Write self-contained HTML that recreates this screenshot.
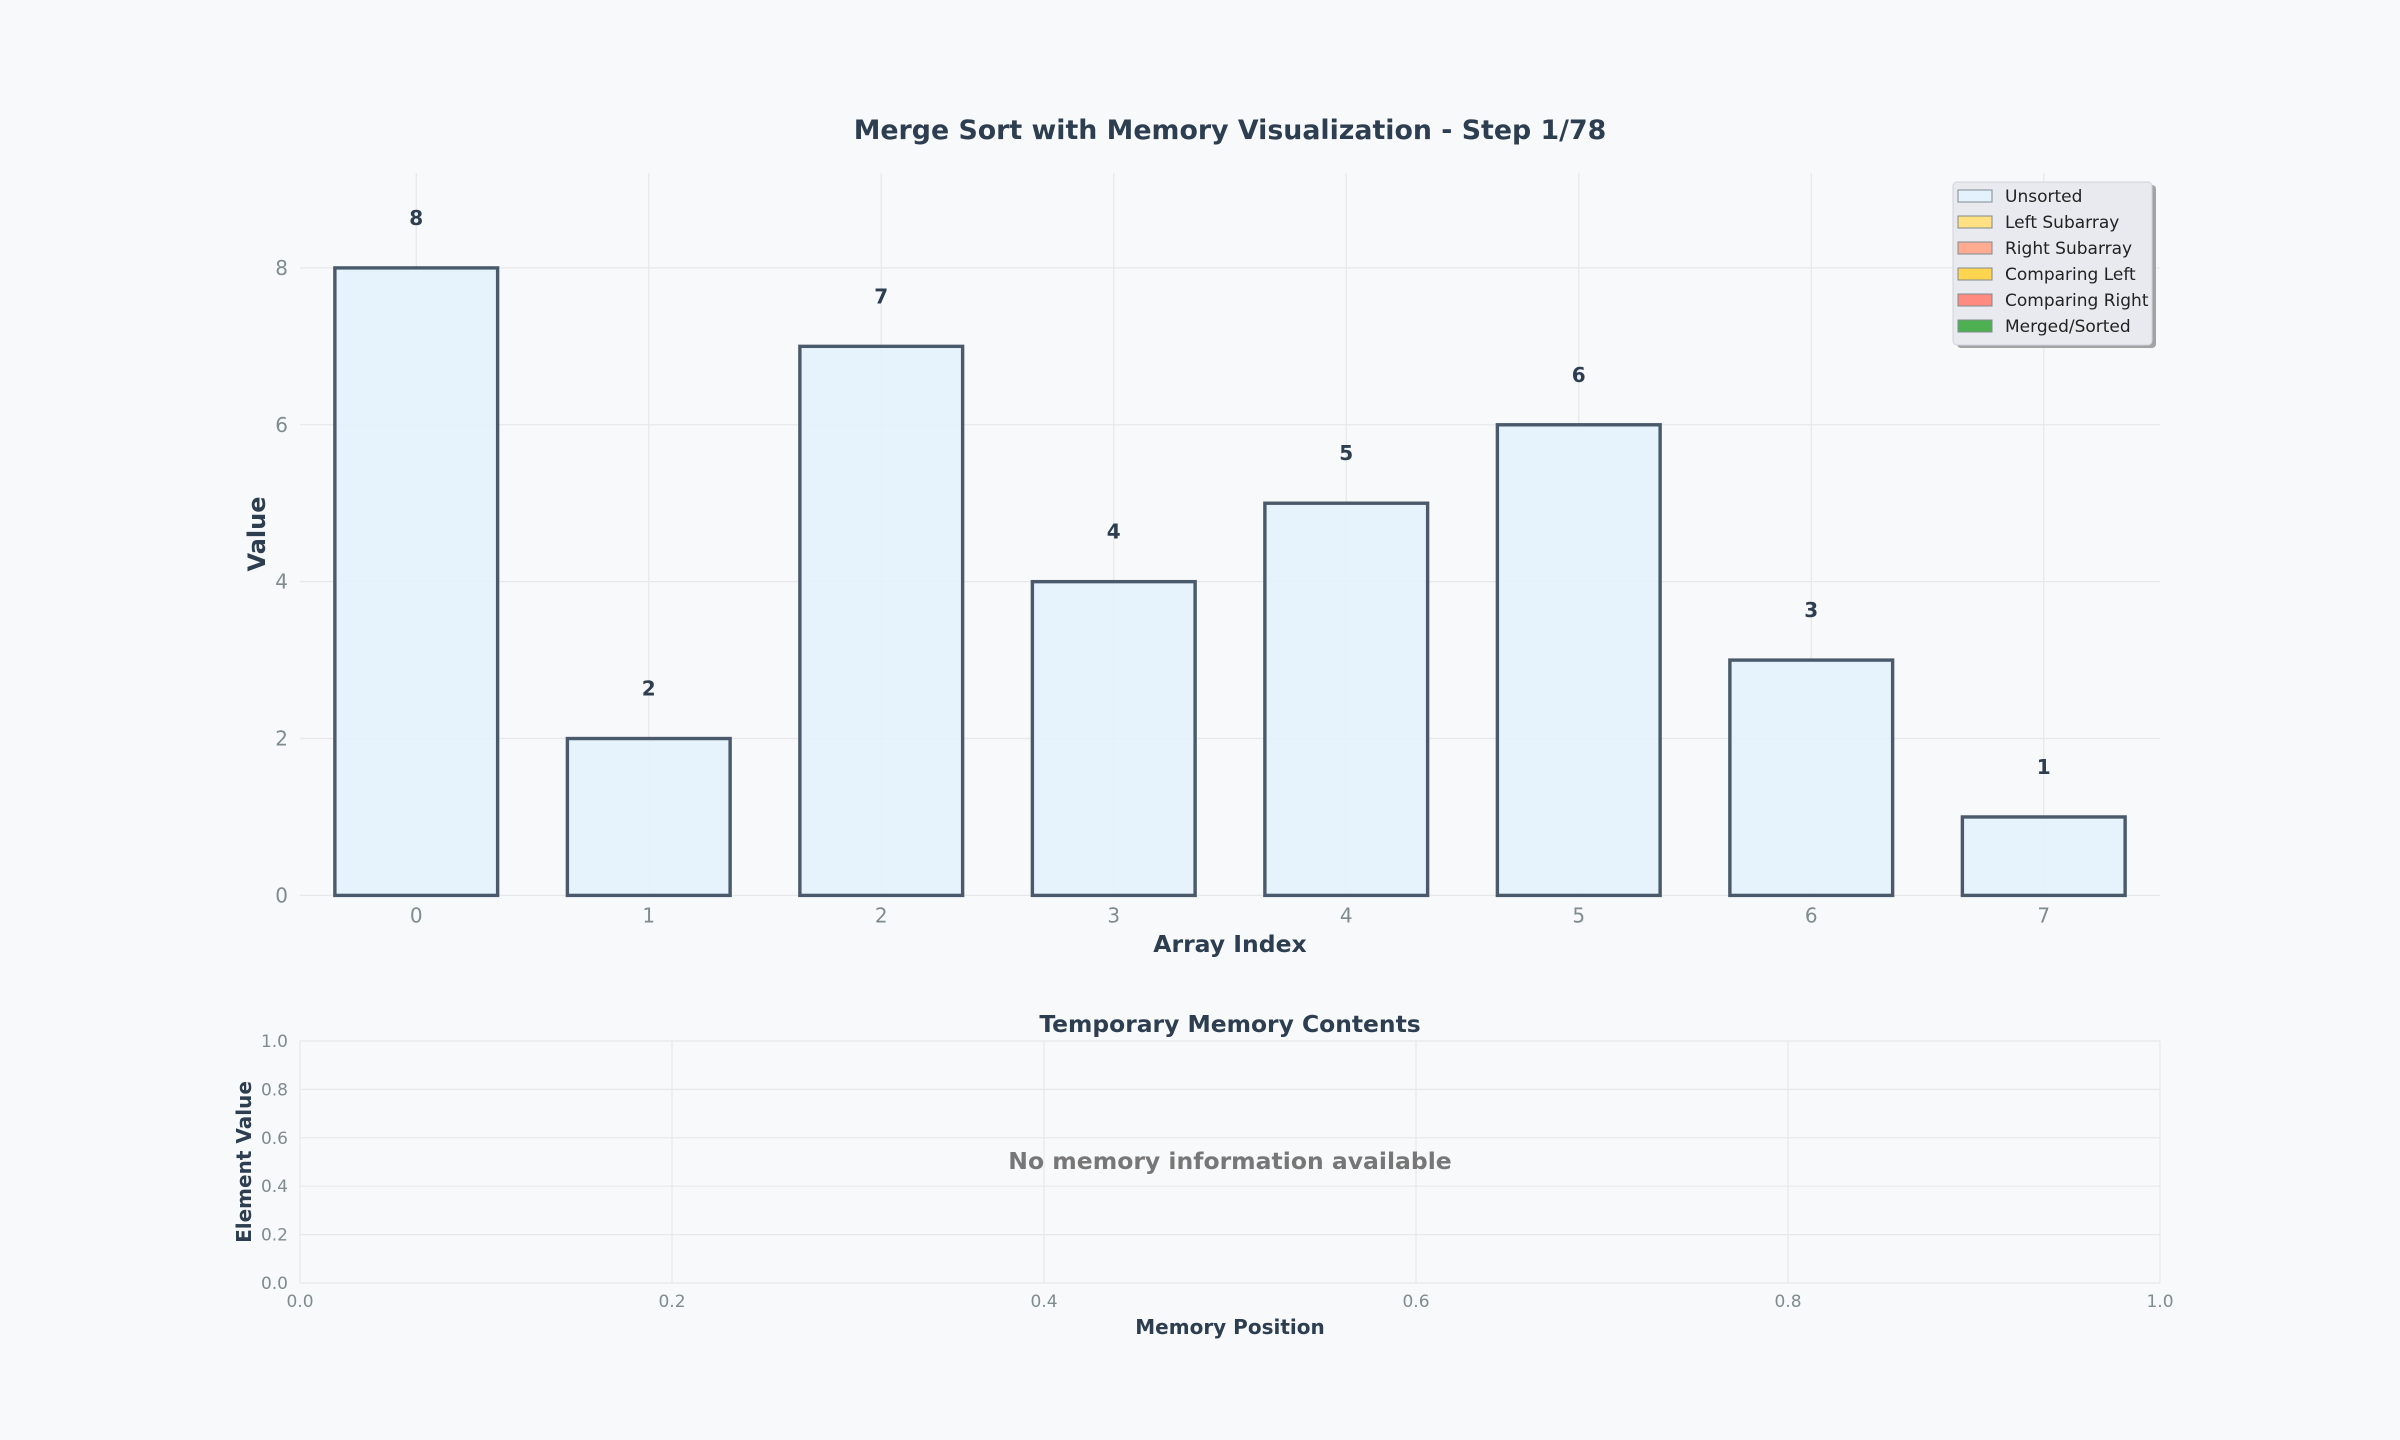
<!DOCTYPE html>
<html><head><meta charset="utf-8"><style>
html,body{margin:0;padding:0;background:#f8f9fa}
svg{display:block;font-family:"DejaVu Sans","Liberation Sans",sans-serif}
</style></head><body>
<svg id="c" width="2400" height="1440" viewBox="0 0 2400 1440">
<rect width="2400" height="1440" fill="#f8f9fa"/>
<text x="1230" y="139" text-anchor="middle" font-size="26.8" font-weight="bold" fill="#2c3e50">Merge Sort with Memory Visualization - Step 1/78</text>
<g id="main"></g>
<g id="mem"></g>
</svg>
<script>
const categories = [0,1,2,3,4,5,6,7];
const values = [8,2,7,4,5,6,3,1];
const yTicks = [0,2,4,6,8];
const memXTicks = [0.0,0.2,0.4,0.6,0.8,1.0];
const memYTicks = [0.0,0.2,0.4,0.6,0.8,1.0];
const legendLabels = ["Unsorted","Left Subarray","Right Subarray","Comparing Left","Comparing Right","Merged/Sorted"];
const legendColors = ["#e3f2fd","#ffe082","#ffab91","#ffd54f","#ff8a80","#4caf50"];

const NS="http://www.w3.org/2000/svg";
function mk(parent,tag,attrs,text){const e=document.createElementNS(NS,tag);for(const k in attrs)e.setAttribute(k,attrs[k]);if(text!==undefined)e.textContent=text;parent.appendChild(e);return e;}

const L=300,R=2160,T=173,B=895.4;
const xMin=-0.5,xMax=7.5,yMin=0,yMax=9.21;
const xs=v=>L+(v-xMin)/(xMax-xMin)*(R-L);
const ys=v=>B-(v-yMin)/(yMax-yMin)*(B-T);
const g=document.getElementById('main');
yTicks.forEach(t=>{
  const l=mk(g,'line',{x1:L,x2:R,y1:ys(t),y2:ys(t),stroke:'#e6e8ea','stroke-width':1.2});
  
  
  const tx=mk(g,'text',{x:L-12,y:ys(t)+7,'text-anchor':'end','font-size':20,fill:'#7f8c8d'},String(t));
  
  
});
categories.forEach(c=>{
  const l=mk(g,'line',{x1:xs(c),x2:xs(c),y1:T,y2:B,stroke:'#e6e8ea','stroke-width':1.2});
  
  
  const tx=mk(g,'text',{x:xs(c),y:B+27,'text-anchor':'middle','font-size':20,fill:'#7f8c8d'},String(c));
  
  
});
const bw=0.7;
categories.forEach((c,i)=>{
  const v=values[i];
  const x0=xs(c-bw/2),x1=xs(c+bw/2);
  const r=mk(g,'rect',{x:x0,y:ys(v),width:x1-x0,height:ys(0)-ys(v),fill:'#e3f2fd','fill-opacity':0.85,stroke:'#4a5a6a','stroke-width':3.4});
  
  
  const tx=mk(g,'text',{x:xs(c),y:ys(v)-43,'text-anchor':'middle','font-size':20,'font-weight':'bold',fill:'#2c3e50'},String(v));
  
  
});
let t1=mk(g,'text',{x:1230,y:952,'text-anchor':'middle','font-size':23.5,'font-weight':'bold',fill:'#2c3e50'},'Array Index');


let t2=mk(g,'text',{x:265,y:534,'text-anchor':'middle','font-size':24,'font-weight':'bold',fill:'#2c3e50',transform:'rotate(-90 265 534)'},'Value');


const lg=mk(g,'g',{});


mk(lg,'rect',{x:1957,y:185,width:199,height:163,rx:4,fill:'#999','fill-opacity':0.9});
mk(lg,'rect',{x:1953,y:182,width:199,height:163,rx:4,fill:'#e9eaf0',stroke:'#d0d3da','stroke-width':1});
legendLabels.forEach((lab,i)=>{
  const y=196+i*26;
  const e=mk(lg,'g',{});
  
  
  mk(e,'rect',{x:1958,y:y-6,width:34,height:12,fill:legendColors[i],stroke:'#7f8c8d','stroke-width':1});
  mk(e,'text',{x:2005,y:y+6,'font-size':17,fill:'#222'},lab);
});

const mL=300,mR=2160,mT=1041,mB=1283;
const mx=v=>mL+v*(mR-mL);
const my=v=>mB-v*(mB-mT);
const m=document.getElementById('mem');
memYTicks.forEach(t=>{
  const l=mk(m,'line',{x1:mL,x2:mR,y1:my(t),y2:my(t),stroke:'#e6e8ea','stroke-width':1.2});
  
  
  const tx=mk(m,'text',{x:mL-12,y:my(t)+6,'text-anchor':'end','font-size':17,fill:'#7f8c8d'},t.toFixed(1));
  
  
});
memXTicks.forEach(t=>{
  const l=mk(m,'line',{x1:mx(t),x2:mx(t),y1:mT,y2:mB,stroke:'#e6e8ea','stroke-width':1.2});
  
  
  const tx=mk(m,'text',{x:mx(t),y:mB+24,'text-anchor':'middle','font-size':17,fill:'#7f8c8d'},t.toFixed(1));
  
  
});
let t3=mk(m,'text',{x:1230,y:1032,'text-anchor':'middle','font-size':23.4,'font-weight':'bold',fill:'#2c3e50'},'Temporary Memory Contents');


let t4=mk(m,'text',{x:1230,y:1169,'text-anchor':'middle','font-size':23.5,'font-weight':'bold',fill:'#777'},'No memory information available');


let t5=mk(m,'text',{x:1230,y:1334,'text-anchor':'middle','font-size':20,'font-weight':'bold',fill:'#2c3e50'},'Memory Position');


let t6=mk(m,'text',{x:251,y:1162,'text-anchor':'middle','font-size':20,'font-weight':'bold',fill:'#2c3e50',transform:'rotate(-90 251 1162)'},'Element Value');


</script>
</body></html>
